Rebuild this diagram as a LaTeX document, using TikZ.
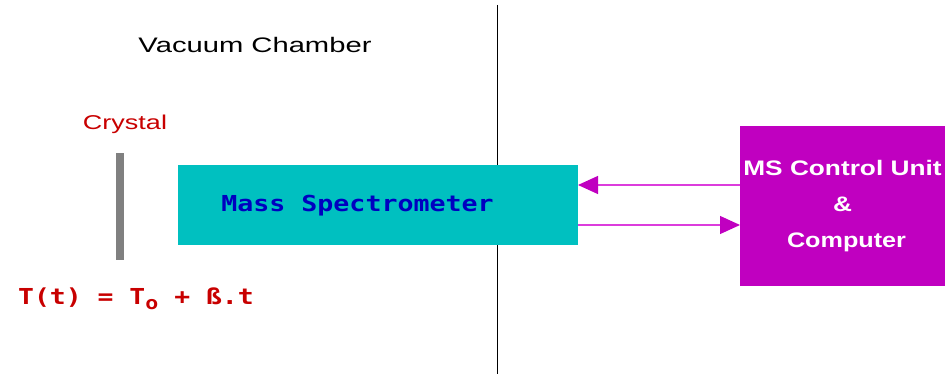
\documentclass[tikz,border=0pt]{standalone}
\usepackage{fontspec}
\setmainfont{Liberation Sans}
\newfontfamily\monofont{DejaVu Sans Mono}
\definecolor{crystalred}{RGB}{200,0,0}
\definecolor{mscyan}{RGB}{0,192,192}
\definecolor{msblue}{RGB}{0,0,192}
\definecolor{ctrlmag}{RGB}{192,0,192}
\definecolor{arrowmag}{RGB}{220,60,220}
\usetikzlibrary{arrows.meta}
\begin{document}
\begin{tikzpicture}[x=1pt,y=-1pt,
  lbl/.style={inner sep=0pt, anchor=center},
  flow/.style={draw=arrowmag, line width=1.2pt, -{Triangle[length=20pt,width=18pt,color=ctrlmag]}}]
\useasboundingbox (0,0) rectangle (948,374);
% chamber wall
\coordinate (wtop) at (497,5);
\coordinate (wbot) at (497,374);
\draw[line width=1pt] (wtop) -- (wbot);
\node[lbl] (vc) at (255,45) {\scalebox{1.39}[1]{\fontsize{21}{24}\selectfont Vacuum Chamber}};
% crystal
\node[lbl, text=crystalred] (clabel) at (125,124) {\scalebox{1.35}[1]{\fontsize{20}{24}\selectfont Crystal}};
\node[fill=gray, minimum width=8pt, minimum height=107pt, inner sep=0pt] (crystal) at (120,206.5) {};
% mass spectrometer
\node[fill=mscyan, minimum width=400pt, minimum height=80pt, inner sep=0pt] (ms) at (378,205) {};
\node[lbl, text=msblue] (mslabel) at (357.5,205.5) {\scalebox{1.21}[1]{\fontsize{22}{26}\selectfont\monofont\bfseries Mass Spectrometer}};
% control unit
\node[fill=ctrlmag, minimum width=205pt, minimum height=160pt, inner sep=0pt, text=white, align=center, font=\fontsize{21}{36}\selectfont\bfseries] (cu) at (842.5,206) {\scalebox{1.25}[1]{MS Control Unit}\\\scalebox{1.25}[1]{\&}\\\hspace*{8pt}\scalebox{1.2}[1]{Computer}};
% arrows
\coordinate (a1s) at (740,185);
\coordinate (a1e) at (578,185);
\coordinate (a2s) at (578,225);
\coordinate (a2e) at (740,225);
\draw[flow] (a1s) -- (a1e);
\draw[flow] (a2s) -- (a2e);
% formula
\node[lbl, text=crystalred, anchor=west] (formula) at (18,299) {\scalebox{1.2}[1]{\fontsize{22}{26}\selectfont\monofont\bfseries T(t) = T\raisebox{-5pt}{\fontsize{18}{20}\selectfont o} + ß.t}};
\end{tikzpicture}
\end{document}
